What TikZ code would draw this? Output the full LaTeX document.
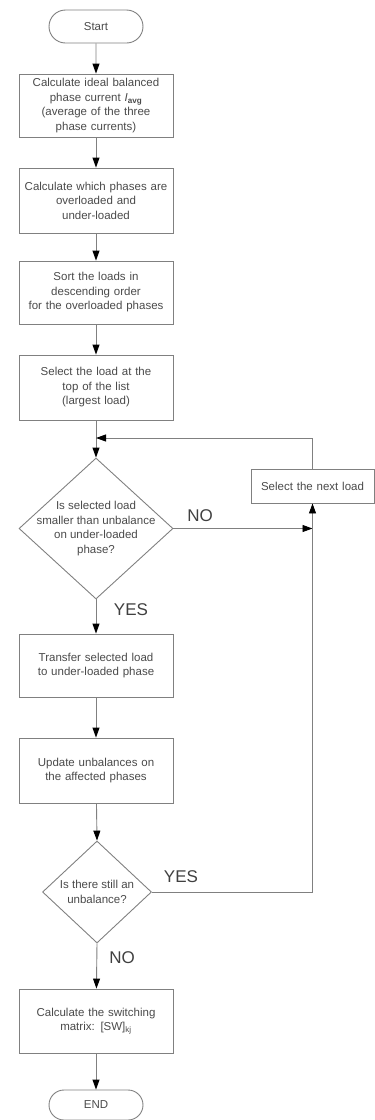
\documentclass[tikz,border=0pt]{standalone}
\usepackage{fontspec}
\setmainfont{Liberation Sans}
\usetikzlibrary{shapes.geometric,shapes.misc,arrows.meta}
\definecolor{linegray}{HTML}{808080}
\definecolor{txtgray}{HTML}{4A4A4A}
\begin{document}
\begin{tikzpicture}[x=1pt,y=-1pt,
  every node/.style={font=\fontsize{11.5}{14.5}\selectfont, text=txtgray, align=center},
  procbox/.style={draw=linegray, line width=0.9pt, minimum width=154pt, inner sep=0pt, text width=152pt},
  termbox/.style={draw=linegray, line width=0.9pt, rounded rectangle, minimum width=94pt, inner sep=0pt},
  decbox/.style={draw=linegray, line width=0.9pt, diamond, inner sep=0pt},
  flow/.style={draw=linegray, line width=0.9pt, -{Triangle[length=10pt,width=7pt,fill=black,color=black]}},
  lbl/.style={font=\fontsize{17}{20}\selectfont, text=black!75}
]
\useasboundingbox (0,0) rectangle (375,1120);

\node[termbox, minimum height=33pt] (start) at (96,26.5) {Start};
\node[procbox, minimum height=63pt] (b1) at (96,105.5) {Calculate ideal balanced\\ phase current \textit{I}\textsubscript{\textbf{avg}}\\ (average of the three\\ phase currents)};
\node[procbox, minimum height=65pt] (b2) at (96,200.5) {Calculate which phases are\\ overloaded and\\ under-loaded};
\node[procbox, minimum height=63pt] (b3) at (96,292.5) {Sort the loads in\\ descending order\\ for the overloaded phases};
\node[procbox, minimum height=65pt] (b4) at (96,387.5) {Select the load at the\\ top of the list\\ (largest load)};
\coordinate (join) at (96,438);
\node[decbox, minimum width=154pt, minimum height=141pt] (d1) at (96,528.5) {};
\node at (d1) {Is selected load\\ smaller than unbalance\\ on under-loaded\\ phase?};
\node[procbox, minimum width=123pt, text width=121pt, minimum height=34pt] (next) at (312.5,486) {Select the next load};
\node[procbox, minimum height=63pt] (b5) at (96,665.5) {Transfer selected load\\ to under-loaded phase};
\node[procbox, minimum height=65pt] (b6) at (96,770.5) {Update unbalances on\\ the affected phases};
\node[decbox, minimum width=109pt, minimum height=102pt] (d2) at (97,892) {};
\node at (d2) {Is there still an\\ unbalance?};
\node[procbox, minimum height=64pt] (b7) at (96,1021) {Calculate the switching\\ matrix: [SW]\textsubscript{kj}};
\node[termbox, minimum height=30pt] (end) at (96,1105) {END};

\coordinate (nocorner) at (next.south |- d1.east);
\coordinate (loopcorner) at (next.north |- join);
\coordinate (yescorner) at (next.south |- d2.east);

\draw[flow] (start) -- (b1);
\draw[flow] (b1) -- (b2);
\draw[flow] (b2) -- (b3);
\draw[flow] (b3) -- (b4);
\draw[flow] (b4) -- (d1.north);
\draw[flow] (next.north) -- (loopcorner) -- (join);
\draw[flow] (d1.east) -- (nocorner);
\draw[flow] (d1.south) -- (b5);
\draw[flow] (b5) -- (b6);
\draw[flow] (b6) -- (d2.north);
\draw[flow] (d2.east) -- (yescorner) -- (next.south);
\draw[flow] (d2.south) -- (b7);
\draw[flow] (b7) -- (end);

\node[lbl] (lno1) at (200,516) {NO};
\node[lbl] (lyes1) at (131,610) {YES};
\node[lbl] (lyes2) at (181,877) {YES};
\node[lbl] (lno2) at (122,958) {NO};
\end{tikzpicture}
\end{document}
